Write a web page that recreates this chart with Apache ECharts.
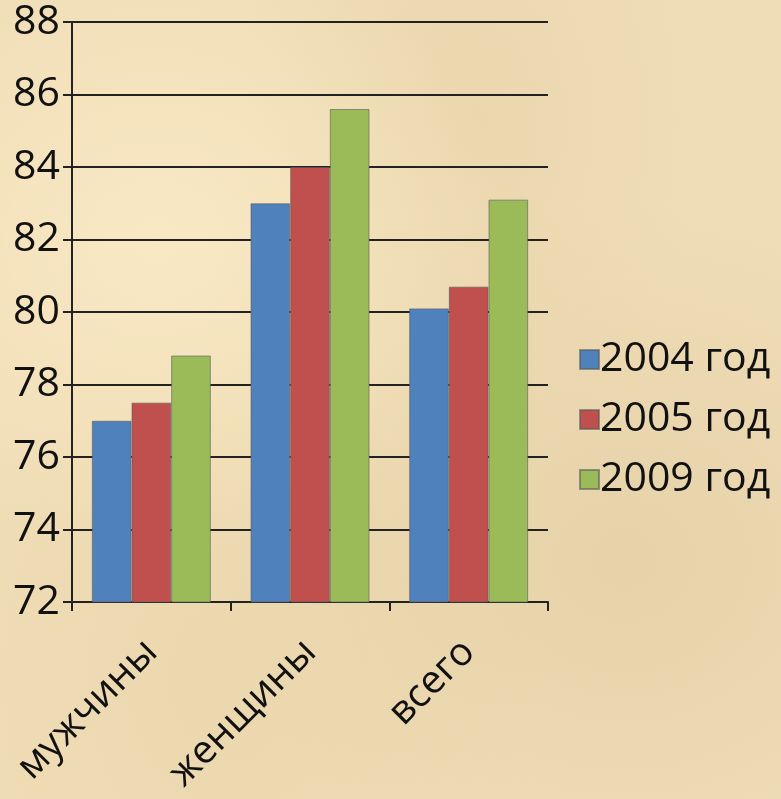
<!DOCTYPE html>
<html><head><meta charset="utf-8">
<script src="https://cdn.jsdelivr.net/npm/echarts@6/dist/echarts.min.js"></script>
<style>
html,body{margin:0;padding:0;width:781px;height:799px;overflow:hidden;}
body{background:
 radial-gradient(ellipse at 20% 30%, rgba(255,240,205,0.6), rgba(255,240,205,0) 40%),
 radial-gradient(ellipse at 80% 70%, rgba(215,190,145,0.35), rgba(215,190,145,0) 45%),
 radial-gradient(ellipse at 60% 15%, rgba(225,200,155,0.3), rgba(225,200,155,0) 35%),
 radial-gradient(ellipse at 30% 85%, rgba(230,205,160,0.35), rgba(230,205,160,0) 40%),
 #EFDDB6;}
#c{width:781px;height:799px;}
</style></head>
<body><div id="c"></div>
<script>
var categories = ['мужчины', 'женщины', 'всего'];
var seriesNames = ['2004 год', '2005 год', '2009 год'];
var values2004 = [77.0, 83.0, 80.1];
var values2005 = [77.5, 84.0, 80.7];
var values2009 = [78.8, 85.6, 83.1];
var colors = ['#4F81BD', '#C0504D', '#9BBB59'];
var font = '"Open Sans"';
var chart = echarts.init(document.getElementById('c'), null, {renderer: 'canvas'});
var data = [values2004, values2005, values2009];
chart.setOption({
  backgroundColor: 'transparent',
  animation: false,
  grid: {left: 72, right: 233, top: 22, bottom: 197, containLabel: false},
  legend: {
    orient: 'vertical', left: 574, top: 334, itemWidth: 19, itemHeight: 19, itemGap: 19,
    icon: 'rect',
    textStyle: {fontFamily: font, fontSize: 41, lineHeight: 41, color: '#111', padding: [0,0,0,-4]},
    data: seriesNames
  },
  xAxis: {
    type: 'category', data: categories,
    axisLine: {lineStyle: {color: '#222', width: 2}},
    axisTick: {show: true, length: 9, lineStyle: {color: '#222', width: 2}, alignWithLabel: false},
    axisLabel: {rotate: 45, fontFamily: font, fontSize: 39, color: '#111', margin: 44, interval: 0}
  },
  yAxis: {
    type: 'value', min: 72, max: 88, interval: 2,
    axisLine: {show: true, lineStyle: {color: '#222', width: 2}},
    axisTick: {show: true, length: 9, lineStyle: {color: '#222', width: 2}},
    splitLine: {lineStyle: {color: '#222', width: 2}},
    axisLabel: {fontFamily: font, fontSize: 41, color: '#111', margin: 12}
  },
  series: data.map(function(d, i){
    return {
      name: seriesNames[i], type: 'bar', data: d,
      barGap: '0%', barCategoryGap: '25%',
      itemStyle: {color: colors[i], borderColor: 'rgba(90,90,90,0.6)', borderWidth: 1}
    };
  })
});
</script></body></html>
